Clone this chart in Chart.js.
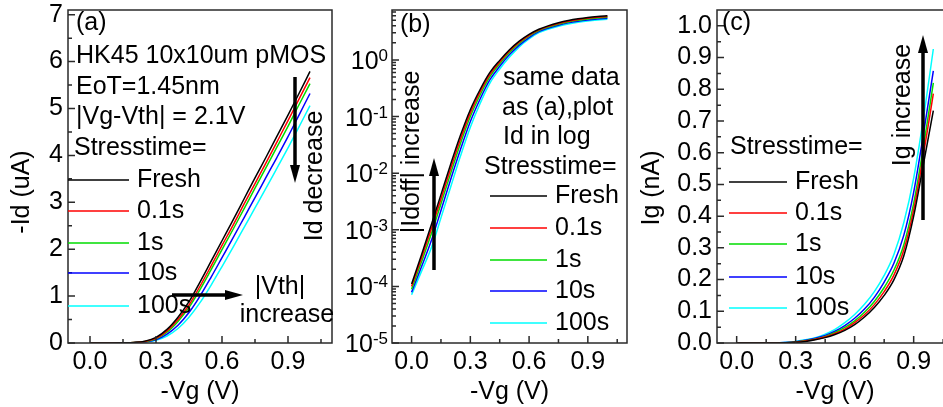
<!DOCTYPE html>
<html>
<head>
<meta charset="utf-8">
<title>Id / Ig vs stress time</title>
<script src="https://cdn.jsdelivr.net/npm/chart.js@4.4.1/dist/chart.umd.min.js"></script>
<style>
    body { margin: 0; background: #ffffff; }
    #wrap { position: relative; width: 943px; height: 407px; overflow: hidden; }
    #wrap canvas { position: absolute; top: 0; }
</style>
</head>
<body>
<div id="wrap">
    <canvas id="panelA" width="340" height="407" style="left:0px"></canvas>
    <canvas id="panelB" width="300" height="407" style="left:335px"></canvas>
    <canvas id="panelC" width="330" height="407" style="left:640px"></canvas>
</div>
<script>
// -Vg sweep (V)
const vg = [0.00, 0.05, 0.10, 0.15, 0.20, 0.25, 0.30, 0.35, 0.40, 0.45, 0.50,
            0.55, 0.60, 0.65, 0.70, 0.75, 0.80, 0.85, 0.90, 0.95, 1.00];
const stressTimes = ['Fresh', '0.1s', '1s', '10s', '100s'];

// (a) -Id (uA), linear
const idLinFresh = [0.0001, 0.0003, 0.001, 0.004, 0.012, 0.04, 0.12, 0.29, 0.55, 0.88, 1.30, 1.74, 2.18, 2.62, 3.07, 3.52, 3.96, 4.41, 4.86, 5.32, 5.79];
const idLin01s   = [0.0001, 0.0003, 0.001, 0.003, 0.010, 0.034, 0.10, 0.26, 0.50, 0.81, 1.21, 1.64, 2.08, 2.51, 2.96, 3.40, 3.84, 4.29, 4.74, 5.20, 5.66];
const idLin1s    = [0.0001, 0.0003, 0.0009, 0.003, 0.009, 0.03, 0.09, 0.23, 0.46, 0.76, 1.14, 1.56, 1.99, 2.42, 2.86, 3.30, 3.74, 4.18, 4.62, 5.08, 5.53];
const idLin10s   = [0.0001, 0.0002, 0.0008, 0.002, 0.007, 0.024, 0.07, 0.19, 0.38, 0.65, 1.00, 1.40, 1.82, 2.24, 2.67, 3.10, 3.53, 3.96, 4.40, 4.86, 5.32];
const idLin100s  = [0.0001, 0.0002, 0.0007, 0.002, 0.006, 0.02, 0.06, 0.15, 0.31, 0.55, 0.86, 1.23, 1.63, 2.04, 2.46, 2.88, 3.30, 3.73, 4.16, 4.61, 5.06];

// (b) -Id (uA), log
const idLogFresh = [1.1e-4, 3.55e-4, 1.2e-3, 4.17e-3, 1.45e-2, 0.047, 0.132, 0.30, 0.60, 0.98, 1.51, 2.14, 2.82, 3.47, 4.03, 4.52, 4.95, 5.31, 5.60, 5.82, 6.00];
const idLog01s   = [1.0e-4, 3.11e-4, 1.01e-3, 3.5e-3, 1.22e-2, 0.0401, 0.116, 0.272, 0.555, 0.916, 1.43, 2.05, 2.72, 3.38, 3.92, 4.40, 4.82, 5.16, 5.45, 5.66, 5.83];
const idLog1s    = [8.9e-5, 2.66e-4, 8.3e-4, 2.88e-3, 1.0e-2, 0.0336, 0.100, 0.240, 0.505, 0.851, 1.35, 1.95, 2.62, 3.29, 3.80, 4.27, 4.68, 5.01, 5.28, 5.50, 5.66];
const idLog10s   = [7.9e-5, 2.19e-4, 6.3e-4, 2.19e-3, 7.8e-3, 0.0263, 0.0813, 0.204, 0.447, 0.769, 1.24, 1.82, 2.48, 3.15, 3.66, 4.10, 4.50, 4.82, 5.08, 5.28, 5.44];
const idLog100s  = [7.1e-5, 1.82e-4, 4.7e-4, 1.62e-3, 5.75e-3, 0.0202, 0.0646, 0.170, 0.389, 0.689, 1.12, 1.70, 2.34, 3.02, 3.51, 3.94, 4.32, 4.62, 4.88, 5.07, 5.22];

// (c) Ig (nA)
const igFresh = [0, 0, 0, 0, 0, 0.0005, 0.002, 0.005, 0.010, 0.017, 0.027, 0.040, 0.058, 0.082, 0.112, 0.150, 0.200, 0.275, 0.400, 0.565, 0.733];
const ig01s   = [0, 0, 0, 0, 0, 0.0008, 0.0026, 0.006, 0.0115, 0.019, 0.030, 0.044, 0.064, 0.089, 0.121, 0.162, 0.215, 0.293, 0.420, 0.595, 0.786];
const ig1s    = [0, 0, 0, 0, 0, 0.001, 0.0032, 0.007, 0.013, 0.021, 0.033, 0.049, 0.070, 0.097, 0.131, 0.175, 0.230, 0.310, 0.440, 0.620, 0.820];
const ig10s   = [0, 0, 0, 0, 0, 0.0014, 0.004, 0.0085, 0.015, 0.024, 0.037, 0.055, 0.078, 0.107, 0.144, 0.192, 0.252, 0.340, 0.475, 0.660, 0.858];
const ig100s  = [0, 0, 0, 0, 0, 0.002, 0.005, 0.010, 0.017, 0.028, 0.043, 0.064, 0.090, 0.122, 0.162, 0.213, 0.280, 0.380, 0.520, 0.710, 0.927];

// tick labels
const xMajor = [0.0, 0.3, 0.6, 0.9];
const xMinor = [0.15, 0.45, 0.75, 1.05];
const idLinMajor = [0, 1, 2, 3, 4, 5, 6, 7];
const idLogMajor = [1e-5, 1e-4, 1e-3, 1e-2, 1e-1, 1e0];
const igMajor = [0.0, 0.1, 0.2, 0.3, 0.4, 0.5, 0.6, 0.7, 0.8, 0.9, 1.0];

const FONT = "'Liberation Sans', Arial, Helvetica, sans-serif";
const AXIS_COLOR = '#2a2a2a';
const lineColors = ['#000000', '#ff0000', '#00dd00', '#0000ff', '#00ffff'];

function drawArrow(ctx, x1, y1, x2, y2) {
    const ang = Math.atan2(y2 - y1, x2 - x1);
    const headLen = 18, headHalf = 5;
    const bx = x2 - headLen * Math.cos(ang);
    const by = y2 - headLen * Math.sin(ang);
    ctx.strokeStyle = '#000';
    ctx.lineWidth = 3.5;
    ctx.beginPath();
    ctx.moveTo(x1, y1);
    ctx.lineTo(bx, by);
    ctx.stroke();
    ctx.fillStyle = '#000';
    ctx.beginPath();
    ctx.moveTo(x2, y2);
    ctx.lineTo(bx + headHalf * Math.sin(ang), by - headHalf * Math.cos(ang));
    ctx.lineTo(bx - headHalf * Math.sin(ang), by + headHalf * Math.cos(ang));
    ctx.closePath();
    ctx.fill();
}

// inward ticks, frame, annotations and in-plot legend
const panelDecor = {
    id: 'panelDecor',
    afterDatasetsDraw(chart, args, opts) {
        const ctx = chart.ctx;
        const area = chart.chartArea;
        const xs = chart.scales.x;
        const ys = chart.scales.y;
        ctx.save();

        ctx.strokeStyle = AXIS_COLOR;
        ctx.lineWidth = 1.5;
        ctx.beginPath();
        xs.ticks.forEach(t => {
            const px = xs.getPixelForValue(t.value);
            ctx.moveTo(px, area.bottom);
            ctx.lineTo(px, area.bottom - 7);
        });
        (opts.xMinor || []).forEach(v => {
            const px = xs.getPixelForValue(v);
            if (px > area.left && px < area.right) {
                ctx.moveTo(px, area.bottom);
                ctx.lineTo(px, area.bottom - 4);
            }
        });
        ys.ticks.forEach(t => {
            const py = ys.getPixelForValue(t.value);
            ctx.moveTo(area.left, py);
            ctx.lineTo(area.left + 7, py);
        });
        (opts.yMinor || []).forEach(v => {
            const py = ys.getPixelForValue(v);
            if (py > area.top && py < area.bottom) {
                ctx.moveTo(area.left, py);
                ctx.lineTo(area.left + 4, py);
            }
        });
        ctx.stroke();
        ctx.strokeRect(area.left, area.top, area.right - area.left, area.bottom - area.top);

        ctx.fillStyle = '#000';
        ctx.textBaseline = 'middle';

        if (opts.logLabels) {
            ys.ticks.forEach(t => {
                const py = ys.getPixelForValue(t.value);
                const ex = String(Math.round(Math.log10(t.value)));
                ctx.textBaseline = 'alphabetic';
                ctx.textAlign = 'right';
                ctx.font = '17px ' + FONT;
                const exW = ctx.measureText(ex).width;
                ctx.fillText(ex, area.left - 4, py + 1);
                ctx.font = '25px ' + FONT;
                ctx.fillText('10', area.left - 4 - exW, py + 9);
            });
            ctx.textBaseline = 'middle';
        }

        ctx.font = '25px ' + FONT;
        (opts.texts || []).forEach(t => {
            ctx.save();
            ctx.translate(t.x, t.y);
            if (t.rotate) ctx.rotate(-Math.PI / 2);
            ctx.textAlign = t.align || 'left';
            ctx.fillText(t.text, 0, 0);
            ctx.restore();
        });

        const lg = opts.legend;
        chart.data.datasets.forEach((ds, i) => {
            const y = lg.rows[i];
            ctx.strokeStyle = ds.borderColor;
            ctx.lineWidth = 1.5;
            ctx.beginPath();
            ctx.moveTo(lg.x1, y);
            ctx.lineTo(lg.x2, y);
            ctx.stroke();
            ctx.textAlign = 'left';
            ctx.fillText(ds.label, lg.textX, y);
        });

        (opts.arrows || []).forEach(a => drawArrow(ctx, a[0], a[1], a[2], a[3]));
        ctx.restore();
    }
};

function buildDatasets(seriesList) {
    return seriesList.map((arr, i) => ({
        label: stressTimes[i],
        data: vg.map((v, j) => ({ x: v, y: arr[j] })),
        borderColor: lineColors[i],
        borderWidth: 1.5,
        pointRadius: 0,
        fill: false,
        cubicInterpolationMode: 'monotone'
    }));
}

function makePanel(canvasId, seriesList, cfg) {
    const ctx = document.getElementById(canvasId).getContext('2d');
    return new Chart(ctx, {
        type: 'line',
        data: { datasets: buildDatasets(seriesList) },
        options: {
            responsive: false,
            animation: false,
            events: [],
            layout: { padding: { top: 10, right: cfg.padRight, left: 0, bottom: 0 } },
            scales: {
                x: {
                    type: 'linear',
                    min: -0.1,
                    max: 1.1,
                    grid: { display: false, drawTicks: false },
                    border: { display: false },
                    afterBuildTicks: scale => { scale.ticks = xMajor.map(v => ({ value: v })); },
                    afterFit: scale => {
                        scale.height = 64;
                        scale.paddingLeft = 0; scale.paddingRight = 0;
                    },
                    ticks: {
                        color: '#000',
                        padding: 4,
                        maxRotation: 0,
                        font: { family: FONT, size: 25 },
                        callback: v => Number(v).toFixed(1)
                    },
                    title: {
                        display: true,
                        text: '-Vg (V)',
                        color: '#000',
                        font: { family: FONT, size: 25 },
                        padding: { top: 0, bottom: 0 }
                    }
                },
                y: {
                    type: cfg.yType,
                    min: cfg.yMin,
                    max: cfg.yMax,
                    grid: { display: false, drawTicks: false },
                    border: { display: false },
                    afterBuildTicks: scale => { scale.ticks = cfg.yMajor.map(v => ({ value: v })); },
                    afterFit: scale => {
                        scale.width = cfg.yWidth;
                        scale.paddingTop = 0; scale.paddingBottom = 0;
                    },
                    ticks: {
                        display: !cfg.logLabels,
                        color: '#000',
                        padding: 5,
                        font: { family: FONT, size: 25 },
                        callback: cfg.yFormat
                    }
                }
            },
            plugins: {
                legend: { display: false },
                tooltip: { enabled: false },
                panelDecor: cfg.decor
            }
        },
        plugins: [panelDecor]
    });
}

const linMinor = [0.5, 1.5, 2.5, 3.5, 4.5, 5.5, 6.5];
const logMinor = [];
[1e-5, 1e-4, 1e-3, 1e-2, 1e-1, 1e0].forEach(d => {
    for (let k = 2; k <= 9; k++) logMinor.push(k * d);
});
const igMinor = [0.05, 0.15, 0.25, 0.35, 0.45, 0.55, 0.65, 0.75, 0.85, 0.95];

makePanel('panelA', [idLinFresh, idLin01s, idLin1s, idLin10s, idLin100s], {
    padRight: 8, yWidth: 68, yType: 'linear', yMin: 0, yMax: 7.1,
    yMajor: idLinMajor, yFormat: v => String(v),
    decor: {
        xMinor: xMinor, yMinor: linMinor,
        texts: [
            { text: '(a)', x: 76, y: 23 },
            { text: 'HK45 10x10um pMOS', x: 76, y: 56 },
            { text: 'EoT=1.45nm', x: 76, y: 87 },
            { text: '|Vg-Vth| = 2.1V', x: 76, y: 117 },
            { text: 'Stresstime=', x: 74, y: 148 },
            { text: 'Id decrease', x: 315, y: 176, rotate: true, align: 'center' },
            { text: '|Vth|', x: 280, y: 287, align: 'center' },
            { text: 'increase', x: 287, y: 315, align: 'center' },
            { text: '-Id (uA)', x: 22, y: 192, rotate: true, align: 'center' }
        ],
        legend: { x1: 68, x2: 129, textX: 137, rows: [180, 211, 243, 273, 306] },
        arrows: [[295, 77, 295, 183], [172, 295, 243, 295]]
    }
});

makePanel('panelB', [idLogFresh, idLog01s, idLog1s, idLog10s, idLog100s], {
    padRight: 8, yWidth: 57, yType: 'logarithmic', yMin: 1e-5, yMax: 7.6,
    yMajor: idLogMajor, logLabels: true, yFormat: v => '',
    decor: {
        xMinor: xMinor, yMinor: logMinor, logLabels: true,
        texts: [
            { text: '(b)', x: 65, y: 25 },
            { text: 'same data', x: 168, y: 78 },
            { text: 'as (a),plot', x: 167, y: 108 },
            { text: 'Id in log', x: 168, y: 137 },
            { text: 'Stresstime=', x: 149, y: 167 },
            { text: '|Idoff| increase', x: 77, y: 152, rotate: true, align: 'center' }
        ],
        legend: { x1: 155, x2: 212, textX: 220, rows: [196, 228, 260, 291, 323] },
        arrows: [[99, 270, 99, 158]]
    }
});

makePanel('panelC', [igFresh, ig01s, ig1s, ig10s, ig100s], {
    padRight: 17, yWidth: 77, yType: 'linear', yMin: 0, yMax: 1.05,
    yMajor: igMajor, yFormat: v => Number(v).toFixed(1),
    decor: {
        xMinor: xMinor, yMinor: igMinor,
        texts: [
            { text: '(c)', x: 82, y: 23 },
            { text: 'Stresstime=', x: 90, y: 147 },
            { text: 'Ig increase', x: 263, y: 105, rotate: true, align: 'center' },
            { text: 'Ig (nA)', x: 12, y: 188, rotate: true, align: 'center' }
        ],
        legend: { x1: 89, x2: 147, textX: 155, rows: [182, 213, 244, 277, 308] },
        arrows: [[283, 220, 283, 35]]
    }
});
</script>
</body>
</html>
